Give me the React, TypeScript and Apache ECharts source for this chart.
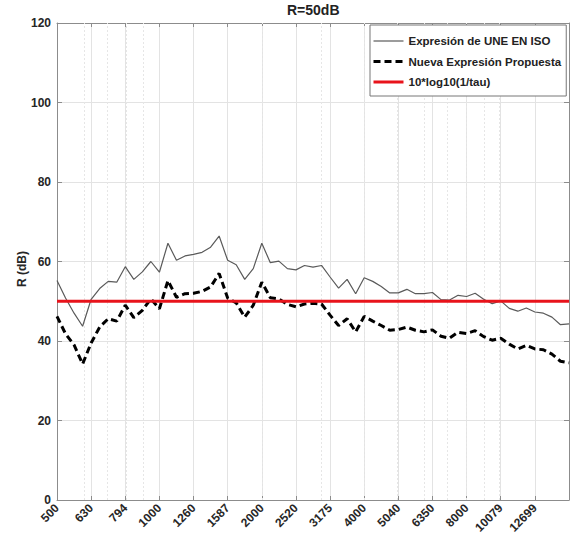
import React, { useEffect, useRef } from 'react';
import * as echarts from 'echarts';

const TITLE = 'R=50dB';
const Y_NAME = 'R (dB)';
const SERIES_NAMES = ['Expresión de UNE EN ISO', 'Nueva Expresión Propuesta', '10*log10(1/tau)'];

// tick labels of the third-octave axis (500 Hz ... 12699 Hz)
const xTickLabels = ['500', '630', '794', '1000', '1260', '1587', '2000', '2520', '3175', '4000', '5040', '6350', '8000', '10079', '12699'];
// MATLAB-style minor log grid lines
const minorGridFreqs = [600, 700, 800, 900, 2000, 3000, 4000, 5000, 6000, 7000, 8000, 9000, 10000];

// 1/12-octave frequency grid from 500 Hz to 16000 Hz
const START_FREQ = 500;
const POINTS_PER_OCTAVE = 12;

const isoValues = [
  55.2, 50.8, 47.0, 43.7, 50.5, 53.2, 55.0, 54.8, 58.7, 55.5,
  57.4, 60.0, 57.3, 64.6, 60.3, 61.4, 61.8, 62.3, 63.6, 66.4,
  60.3, 59.2, 55.5, 58.2, 64.6, 59.7, 60.1, 58.2, 57.9, 59.0,
  58.6, 59.0, 56.1, 53.3, 55.5, 51.9, 55.9, 55.0, 53.7, 52.1,
  52.1, 53.0, 51.9, 51.9, 52.2, 50.4, 50.3, 51.5, 51.2, 52.0,
  50.5, 49.4, 50.1, 48.2, 47.5, 48.3, 47.3, 47.0, 46.0, 44.1,
  44.3,
];

const proposedValues = [
  46.2, 41.8, 39.0, 34.2, 39.5, 43.5, 45.6, 45.0, 49.0, 45.9,
  47.7, 50.6, 48.1, 55.2, 51.0, 51.9, 52.0, 52.5, 53.6, 57.0,
  50.8, 49.6, 46.0, 49.0, 54.8, 50.9, 50.6, 49.2, 48.6, 49.3,
  49.5, 49.3, 46.5, 43.9, 45.6, 42.3, 46.2, 45.0, 43.9, 42.7,
  42.9, 43.5, 42.7, 42.3, 42.8, 41.2, 40.7, 42.2, 41.9, 42.6,
  41.1, 40.2, 40.7, 39.2, 38.0, 38.9, 38.0, 37.8, 36.7, 34.9,
  34.5,
];

const TARGET_R = 50;

// axis coordinate: third-octave band index relative to 1000 Hz
const toAxis = (f: number) => 3 * Math.log2(f / 1000);
const freqs = isoValues.map((_, i) => START_FREQ * Math.pow(2, i / POINTS_PER_OCTAVE));

const FONT = 'Liberation Sans, Arial, Helvetica, sans-serif';

export default function App() {
  const ref = useRef<HTMLDivElement>(null);
  useEffect(() => {
    document.body.style.margin = '0';
    if (!ref.current) return;
    const chart = echarts.init(ref.current, undefined, { renderer: 'svg' });
    const xMin = toAxis(START_FREQ);
    const xMax = toAxis(freqs[freqs.length - 1]);
    const axisColor = '#8c8c8c';
    const gridColor = '#e3e3e3';
    chart.setOption({
      animation: false,
      backgroundColor: '#ffffff',
      title: {
        text: TITLE,
        left: 287,
        top: 3,
        padding: 0,
        textStyle: { fontFamily: FONT, fontSize: 14, fontWeight: 'bold', color: '#222' },
      },
      graphic: [
        {
          type: 'text',
          x: 22,
          y: 269,
          rotation: Math.PI / 2,
          style: {
            text: Y_NAME,
            fontFamily: FONT,
            fontSize: 12,
            fontWeight: 'bold',
            fill: '#262626',
            textAlign: 'center',
            textVerticalAlign: 'middle',
          },
        },
      ],
      legend: {
        orient: 'vertical',
        left: 370,
        top: 25,
        padding: [10, 5, 8, 2],
        itemGap: 8.5,
        itemWidth: 30,
        itemHeight: 14,
        backgroundColor: '#ffffff',
        borderColor: '#777',
        borderWidth: 1,
        borderRadius: 0,
        itemStyle: { opacity: 0, borderWidth: 0 },
        textStyle: { fontFamily: FONT, fontSize: 11.5, fontWeight: 'bold', color: '#222' },
        data: [
          { name: SERIES_NAMES[0], lineStyle: { width: 1.2 } },
          { name: SERIES_NAMES[1], lineStyle: { width: 3 } },
          { name: SERIES_NAMES[2], lineStyle: { width: 3 } },
        ],
      },
      grid: { left: 57, right: 4, top: 23, bottom: 41, containLabel: false },
      xAxis: [
        {
          type: 'value',
          min: xMin,
          max: xMax,
          interval: 1,
          axisLine: { show: true, onZero: false, lineStyle: { color: axisColor, width: 1 } },
          axisTick: { show: true, inside: true, length: 4, lineStyle: { color: axisColor } },
          axisLabel: {
            rotate: 45,
            margin: 6,
            fontFamily: FONT,
            fontSize: 12,
            fontWeight: 'bold',
            color: '#262626',
            formatter: (v: number) => {
              const idx = Math.round(v - xMin);
              return xTickLabels[idx] ?? '';
            },
          },
          splitLine: { show: true, lineStyle: { color: gridColor, width: 1 } },
        },
        {
          type: 'value',
          position: 'top',
          min: xMin,
          max: xMax,
          interval: 1,
          axisLine: { show: true, onZero: false, lineStyle: { color: axisColor, width: 1 } },
          axisTick: { show: true, inside: true, length: 4, lineStyle: { color: axisColor } },
          axisLabel: { show: false },
          splitLine: { show: false },
        },
      ],
      yAxis: [
        {
          type: 'value',
          min: 0,
          max: 120,
          interval: 20,
          axisLine: { show: true, onZero: false, lineStyle: { color: axisColor, width: 1 } },
          axisTick: { show: true, inside: true, length: 5, lineStyle: { color: axisColor } },
          axisLabel: { margin: 6, fontFamily: FONT, fontSize: 12, fontWeight: 'bold', color: '#262626' },
          splitLine: { show: true, lineStyle: { color: gridColor, width: 1 } },
        },
        {
          type: 'value',
          position: 'right',
          min: 0,
          max: 120,
          interval: 20,
          axisLine: { show: true, onZero: false, lineStyle: { color: axisColor, width: 1 } },
          axisTick: { show: true, inside: true, length: 5, lineStyle: { color: axisColor } },
          axisLabel: { show: false },
          splitLine: { show: false },
        },
      ],
      series: [
        {
          name: SERIES_NAMES[0],
          type: 'line',
          symbol: 'none',
          data: freqs.map((f, i) => [toAxis(f), isoValues[i]]),
          lineStyle: { color: '#5a5a5a', width: 1.2 },
          itemStyle: { color: '#5a5a5a' },
          z: 3,
          markLine: {
            silent: true,
            symbol: 'none',
            label: { show: false },
            lineStyle: { color: '#e6e6e6', type: [2, 2], width: 1 },
            data: minorGridFreqs.map((f) => ({ xAxis: toAxis(f) })),
            z: 1,
          },
        },
        {
          name: SERIES_NAMES[1],
          type: 'line',
          symbol: 'none',
          data: freqs.map((f, i) => [toAxis(f), proposedValues[i]]),
          lineStyle: { color: '#000000', width: 3, type: [7, 4] },
          itemStyle: { color: '#000000' },
          z: 4,
        },
        {
          name: SERIES_NAMES[2],
          type: 'line',
          symbol: 'none',
          data: [xMin, xMax].map((x) => [x, TARGET_R]),
          lineStyle: { color: '#e8131b', width: 3 },
          itemStyle: { color: '#e8131b' },
          z: 5,
        },
      ],
    });
    return () => chart.dispose();
  }, []);
  return <div ref={ref} style={{ width: 573, height: 541 }} />;
}
